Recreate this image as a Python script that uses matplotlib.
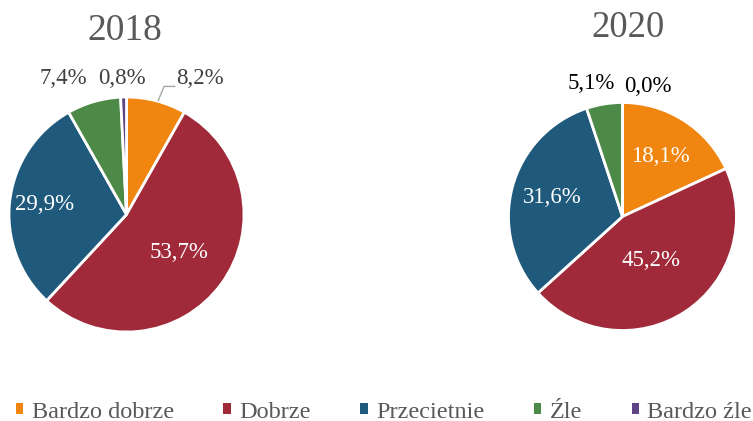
import matplotlib
matplotlib.use('Agg')
import matplotlib.pyplot as plt
from matplotlib.patches import Patch
import numpy as np

plt.rcParams['font.family'] = ['Liberation Serif', 'DejaVu Serif']

# data
categories = ['Bardzo dobrze', 'Dobrze', 'Przecietnie', 'Źle', 'Bardzo źle']
values_2018 = [8.2, 53.7, 29.9, 7.4, 0.8]
values_2020 = [18.1, 45.2, 31.6, 5.1, 0.0]
colors = ['#F0850F', '#A12A3A', '#1F5A7C', '#4E8A47', '#5F4485']

W, H = 753, 421
fig = plt.figure(figsize=(W / 100, H / 100), dpi=100)


def fmt(v):
    return f'{v:.1f}'.replace('.', ',') + '%'


def pie_axes(cx, cy, r):
    # cx, cy in pixels from top-left
    return fig.add_axes([(cx - r) / W, (H - cy - r) / H, 2 * r / W, 2 * r / H])


def draw_pie(ax, vals, inner, outer, outer_color):
    wedges, _ = ax.pie(vals, colors=colors, startangle=90, counterclock=False,
                       radius=1, wedgeprops=dict(edgecolor='white', linewidth=2))
    ax.set_xlim(-1, 1)
    ax.set_ylim(-1, 1)
    ax.set_aspect('equal')
    ax.axis('off')
    for i, rr in inner.items():
        w = wedges[i]
        ang = np.deg2rad((w.theta1 + w.theta2) / 2)
        ax.text(rr * np.cos(ang), rr * np.sin(ang), fmt(vals[i]), color='white',
                fontsize=16.5, ha='center', va='center')
    for i, (x, y, ha) in outer.items():
        ax.text(x, y, fmt(vals[i]), color=outer_color, fontsize=16.5,
                ha=ha, va='center')


ax1 = pie_axes(126.5, 214.5, 117.5)
draw_pie(ax1, values_2018, {1: 0.55, 2: 0.70},
         {0: (0.425, 1.16, 'left'), 4: (-0.04, 1.16, 'center'), 3: (-0.535, 1.16, 'center')},
         '#404040')
ax1.plot([0.27, 0.32, 0.41], [0.97, 1.09, 1.09], color='#A6A6A6', lw=1, clip_on=False)

ax2 = pie_axes(622.5, 216.5, 114)
draw_pie(ax2, values_2020, {0: 0.62, 1: 0.46, 2: 0.64},
         {3: (-0.27, 1.17, 'center'), 4: (0.225, 1.14, 'center')},
         'black')

fig.text(125 / W, 1 - 31 / H, '2018', fontsize=27, color='#595959', ha='center', va='center')
fig.text(628 / W, 1 - 28 / H, '2020', fontsize=26.5, color='#595959', ha='center', va='center')

handles = [Patch(facecolor=c, edgecolor='none') for c in colors]
fig.legend(handles, categories, loc='center', ncol=5, frameon=False,
           bbox_to_anchor=(384 / W, 1 - 412 / H),
           prop={'family': ['Liberation Serif'], 'size': 17.5},
           handlelength=0.3, handleheight=0.3, handletextpad=0.35,
           columnspacing=2.04, labelcolor='#595959', borderpad=0, borderaxespad=0)

fig.savefig('out.png', dpi=100)
